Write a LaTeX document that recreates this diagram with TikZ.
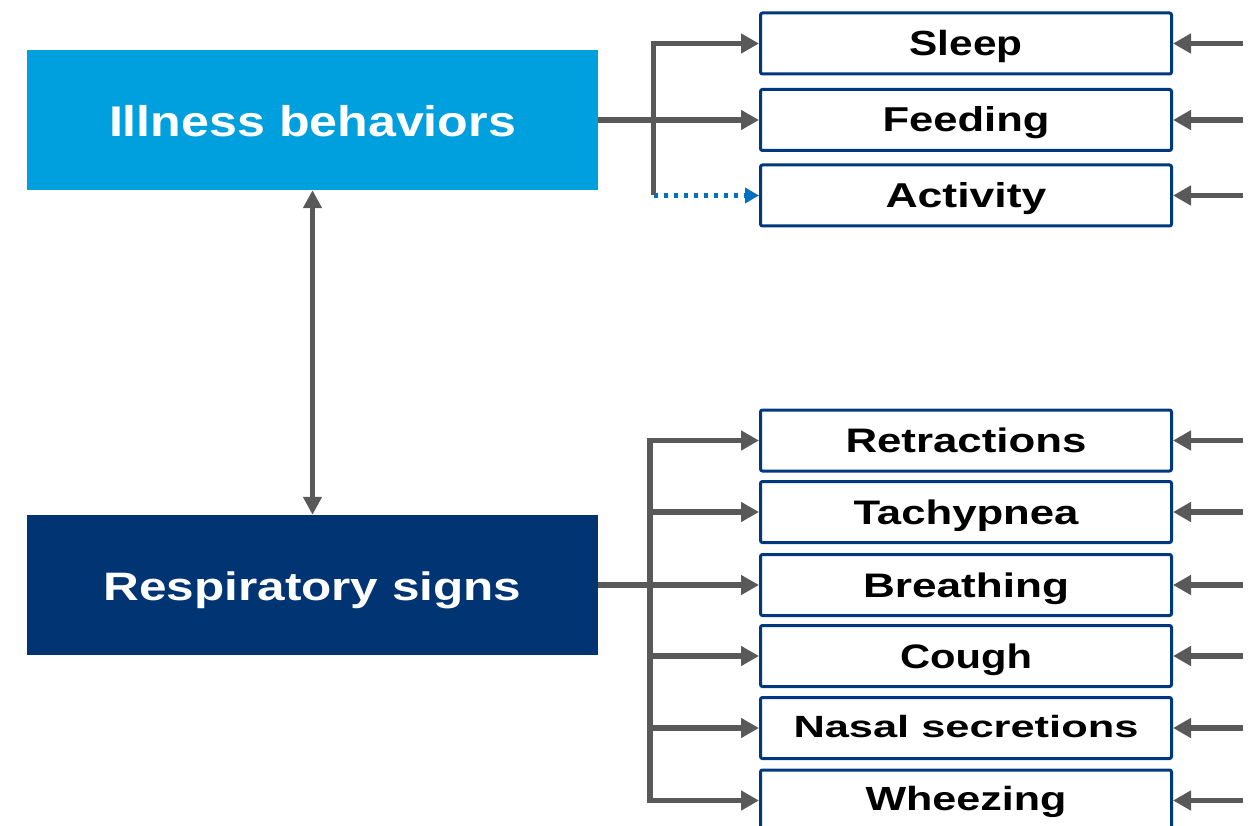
\documentclass[tikz,border=0pt]{standalone}
\usepackage{fontspec}
\usepackage{graphicx}
\usetikzlibrary{arrows.meta}
\setmainfont{Liberation Sans}
\definecolor{illblue}{RGB}{0,160,223}
\definecolor{respnavy}{RGB}{0,52,115}
\definecolor{bordernavy}{RGB}{0,56,128}
\definecolor{arrgray}{RGB}{89,89,89}
\definecolor{dotblue}{RGB}{0,112,192}
% #1 target width (pt), #2 font size (pt), #3 text
\newcommand\fittext[3]{%
  \begingroup\bfseries\fontsize{#2}{#2}\selectfont
  \setbox0\hbox{#3}%
  \pgfmathsetmacro\myxs{#1/\the\wd0}%
  \scalebox{\myxs}[1]{\box0}\endgroup}
\tikzset{
  bigbox/.style={minimum width=571pt, minimum height=140pt, inner sep=0pt,
    text=white, text height=34pt, text depth=0pt},
  itembox/.style={draw=bordernavy, line width=3pt, rounded corners=2pt, fill=white,
    minimum width=411pt, minimum height=61pt, inner sep=0pt, text=black,
    text height=24pt, text depth=0pt},
  garr/.style={draw=arrgray, line width=5.5pt,
    -{Triangle[length=18pt,width=19pt]}},
  garrboth/.style={draw=arrgray, line width=5.5pt,
    {Triangle[length=18pt,width=18pt]}-{Triangle[length=18pt,width=18pt]}},
  dotarr/.style={draw=dotblue, line width=4.5pt, dash pattern=on 4.3pt off 5.7pt,
    -{Triangle[length=14pt,width=15pt]}},
}
\begin{document}
\begin{tikzpicture}[x=1pt,y=-1pt]
\useasboundingbox (0,0) rectangle (1252,826);
\clip (0,0) rectangle (1252,826);
% main boxes
\node[bigbox, fill=illblue] (ill) at (312.5,120) {\fittext{407}{42.9}{Illness behaviors}};
\node[bigbox, fill=respnavy, text height=31.5pt] (resp) at (312.5,585) {\fittext{418}{39.7}{Respiratory signs}};
% item boxes
\node[itembox] (sleep) at (966,43.5) {\fittext{113}{34.9}{Sleep}};
\node[itembox] (feed) at (966,120) {\fittext{167}{34.5}{Feeding}};
\node[itembox] (act) at (966,195.5) {\fittext{161}{34.5}{Activity}};
\node[itembox] (retr) at (966,440.5) {\fittext{241}{34}{Retractions}};
\node[itembox] (tach) at (966,512) {\fittext{225}{34}{Tachypnea}};
\node[itembox] (breath) at (966,585) {\fittext{206}{34}{Breathing}};
\node[itembox] (cough) at (966,656) {\fittext{132}{34}{Cough}};
\node[itembox, text height=18pt] (nasal) at (966,728) {\fittext{345}{30.7}{Nasal secretions}};
\node[itembox, text height=20pt] (wheez) at (966,800.5) {\fittext{201}{33.5}{Wheezing}};
% junction coordinates
\coordinate (jt) at (653.5,120);
\coordinate (jb) at (650,585);
% right free ends
\foreach \n in {sleep,feed,act,retr,tach,breath,cough,nasal,wheez}{
  \coordinate (\n-r) at ([xshift=70pt]\n.east);
  \draw[garr] (\n-r) -- (\n.east);
}
% double arrow
\draw[garrboth] (ill.south) -- (resp.north);
% top branch
\draw[dotarr] (jt |- act.west) -- (act.west);
\draw[garr] (jt |- act.west) |- (sleep.west);
\draw[garr] (ill.east) -- (feed.west);
% bottom branch
\draw[garr] (jb) |- (retr.west);
\draw[garr] (jb) |- (wheez.west);
\draw[garr] (resp.east) -- (breath.west);
\draw[garr] (jb |- tach.west) -- (tach.west);
\draw[garr] (jb |- cough.west) -- (cough.west);
\draw[garr] (jb |- nasal.west) -- (nasal.west);
\end{tikzpicture}
\end{document}
